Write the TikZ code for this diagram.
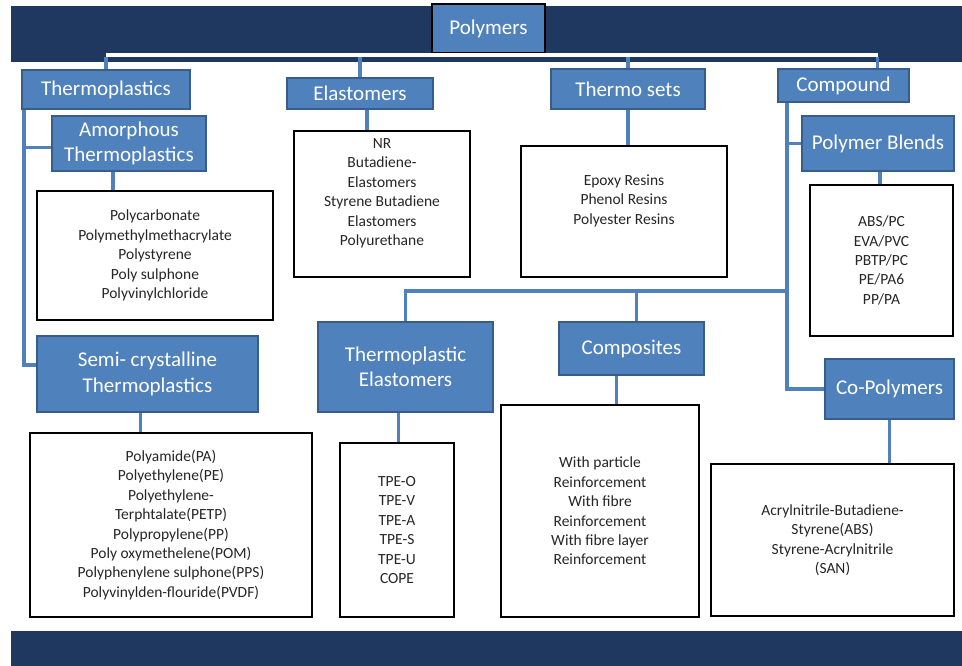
\documentclass[tikz,border=0pt]{standalone}
\usepackage{fontspec}
\setmainfont{Carlito}
\definecolor{bandblue}{RGB}{31,56,96}
\definecolor{headblue}{RGB}{79,129,189}
\definecolor{edgeblue}{RGB}{56,93,138}
\definecolor{linkblue}{RGB}{79,129,189}
\begin{document}
\begin{tikzpicture}[x=1pt,y=-1pt,
    head/.style={draw=edgeblue,line width=1.5pt,fill=headblue,text=white,align=center,inner sep=0pt,font=\fontsize{21}{25.5}\selectfont},
    list/.style={draw=black,line width=2.5pt,fill=white,text=black!85,align=center,inner sep=0pt,font=\fontsize{15.5}{19.4}\selectfont},
    link/.style={linkblue,line width=3.5pt},
    bus/.style={white,line width=4pt}]
  \useasboundingbox (0,0) rectangle (962,666);
  \fill[bandblue] (11,6) rectangle (962,62);
  \fill[bandblue] (11,631) rectangle (962,666);
  % headings
  \node[head,draw=black,minimum width=113pt,minimum height=49pt] (poly) at (488.5,28.5) {Polymers};
  \node[head,minimum width=168pt,minimum height=39pt] (thermo) at (106,89.5) {Thermoplastics};
  \node[head,minimum width=146pt,minimum height=31pt] (elast) at (360,93.5) {Elastomers};
  \node[head,minimum width=154pt,minimum height=40pt] (tsets) at (628,89) {Thermo sets};
  \node[head,minimum width=131pt,minimum height=33pt] (comp) at (843.5,85.5) {Compound};
  \node[head,minimum width=154pt,minimum height=55pt] (amorph) at (129,143.5) {Amorphous\\Thermoplastics};
  \node[head,minimum width=152pt,minimum height=55pt] (blends) at (878,143.5) {Polymer Blends};
  \node[head,minimum width=221pt,minimum height=76pt] (semi) at (147.5,374) {Semi- crystalline\\Thermoplastics};
  \node[head,minimum width=175pt,minimum height=90pt] (tpe) at (405.5,367) {Thermoplastic\\Elastomers};
  \node[head,minimum width=145pt,minimum height=53pt] (compos) at (631.5,348.5) {Composites};
  \node[head,minimum width=129pt,minimum height=60pt] (copoly) at (889.5,389) {Co-Polymers};
  % lists
  \node[list,minimum width=236pt,minimum height=129pt] (amlist) at (155,255.5) {Polycarbonate\\Polymethylmethacrylate\\Polystyrene\\Poly sulphone\\Polyvinylchloride};
  \node[list,minimum width=176pt,minimum height=146pt,text depth=24pt] (ellist) at (382,204) {NR\\Butadiene-\\Elastomers\\Styrene Butadiene\\Elastomers\\Polyurethane};
  \node[list,minimum width=206pt,minimum height=131pt,text depth=24pt] (tslist) at (624,211.5) {Epoxy Resins\\Phenol Resins\\Polyester Resins};
  \node[list,minimum width=143pt,minimum height=151pt] (bllist) at (881.5,260.5) {ABS/PC\\EVA/PVC\\PBTP/PC\\PE/PA6\\PP/PA};
  \node[list,minimum width=282pt,minimum height=184pt] (semilist) at (171,525) {Polyamide(PA)\\Polyethylene(PE)\\Polyethylene-\\Terphtalate(PETP)\\Polypropylene(PP)\\Poly oxymethelene(POM)\\Polyphenylene sulphone(PPS)\\Polyvinylden-flouride(PVDF)};
  \node[list,minimum width=114pt,minimum height=174pt] (tpelist) at (397,530) {TPE-O\\TPE-V\\TPE-A\\TPE-S\\TPE-U\\COPE};
  \node[list,minimum width=198pt,minimum height=212pt] (complist) at (600,511) {With particle\\Reinforcement\\With fibre\\Reinforcement\\With fibre layer\\Reinforcement};
  \node[list,minimum width=243pt,minimum height=152pt] (cplist) at (832.5,540) {Acrylnitrile-Butadiene-\\Styrene(ABS)\\Styrene-Acrylnitrile\\(SAN)};
  % connectors
  \coordinate (bus) at (488,55);
  \draw[bus] (thermo.north |- bus) -- ([xshift=34pt]comp.north |- bus);
  \draw[link] ([yshift=-2pt]thermo.north |- bus) -- (thermo.north);
  \draw[link] ([yshift=-2pt]elast.north |- bus) -- (elast.north);
  \draw[link] ([yshift=-2pt]tsets.north |- bus) -- (tsets.north);
  \draw[link] ([xshift=34pt,yshift=-2pt]comp.north |- bus) -- ([xshift=34pt]comp.north);
  \draw[link] ([xshift=-82pt]thermo.south) |- ([yshift=9pt]semi.west);
  \draw[link] ([yshift=-4pt]amorph.west) -- ++(-28,0);
  \draw[link] ([xshift=-16pt]amorph.south) -- ([xshift=-16pt]amorph.south |- amlist.north);
  \draw[link] ([xshift=7pt]elast.south) -- ([xshift=7pt]elast.south |- ellist.north);
  \draw[link] (tsets.south) -- (tsets.south |- tslist.north);
  \draw[link] ([xshift=-56.5pt]comp.south) |- (copoly.west);
  \draw[link] (blends.west) -- ++(-15,0);
  \coordinate (hub) at (787,291);
  \draw[link] (hub) -| (tpe.north);
  \draw[link] ([xshift=5pt]compos.north |- hub) -- ([xshift=5pt]compos.north);
  \draw[link] ([xshift=2pt]blends.south) -- ([xshift=2pt]blends.south |- bllist.north);
  \draw[link] (copoly.south) -- (copoly.south |- cplist.north);
  \draw[link] ([xshift=-7pt]semi.south) -- ([xshift=-7pt]semi.south |- semilist.north);
  \draw[link] ([xshift=-7pt]tpe.south) -- ([xshift=-7pt]tpe.south |- tpelist.north);
  \draw[link] ([xshift=-15pt]compos.south) -- ([xshift=-15pt]compos.south |- complist.north);
\end{tikzpicture}
\end{document}
